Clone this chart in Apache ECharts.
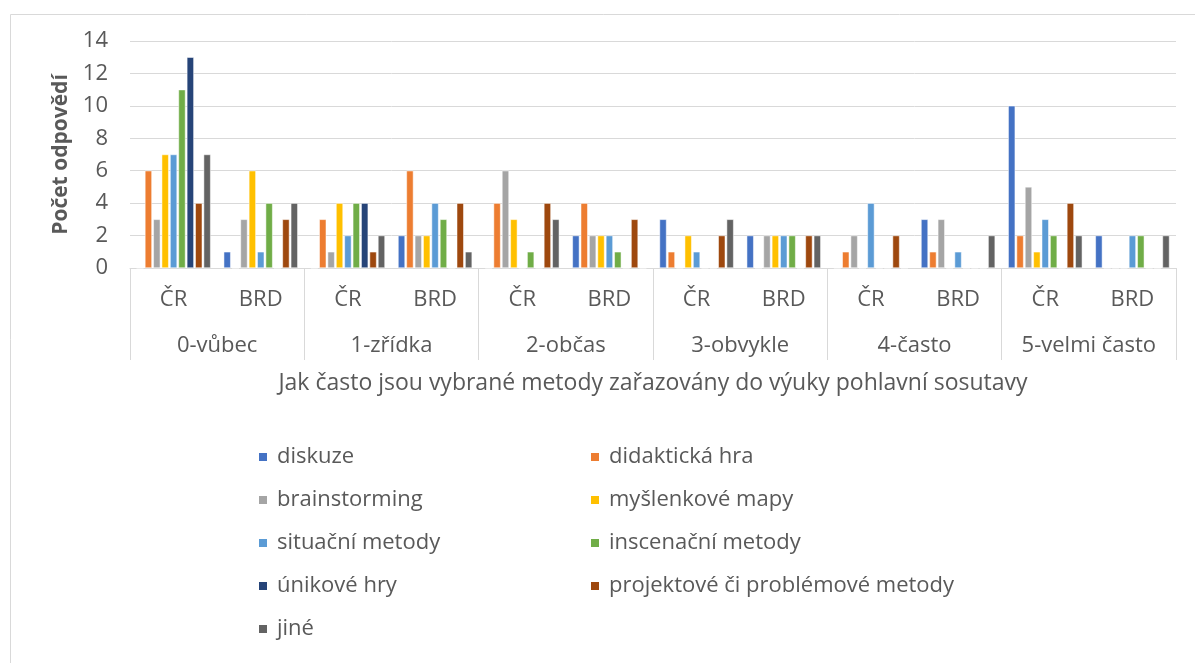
<!DOCTYPE html>
<html>
<head>
<meta charset="utf-8">
<script src="https://cdn.jsdelivr.net/npm/echarts@6/dist/echarts.min.js"></script>
<style>
html,body{margin:0;padding:0;background:#fff;}
#chart{width:1195px;height:663px;}
</style>
</head>
<body>
<div id="chart"></div>
<script>
const categories = ['ČR','BRD','ČR','BRD','ČR','BRD','ČR','BRD','ČR','BRD','ČR','BRD'];
const groups = ['0-vůbec','1-zřídka','2-občas','3-obvykle','4-často','5-velmi často'];
const yTicks = [0,2,4,6,8,10,12,14];

const seriesNames = ['diskuze','didaktická hra','brainstorming','myšlenkové mapy','situační metody','inscenační metody','únikové hry','projektové či problémové metody','jiné'];
const colors = ['#4472C4','#ED7D31','#A5A5A5','#FFC000','#5B9BD5','#70AD47','#264478','#9E480E','#636363'];

const diskuze      = [0,1,0,2,0,2,3,2,0,3,10,2];
const didaktickaHra= [6,0,3,6,4,4,1,0,1,1,2,0];
const brainstorming= [3,3,1,2,6,2,0,2,2,3,5,0];
const myslenkoveMapy=[7,6,4,2,3,2,2,2,0,0,1,0];
const situacniMetody=[7,1,2,4,0,2,1,2,4,1,3,2];
const inscenacniMetody=[11,4,4,3,1,1,0,2,0,0,2,2];
const unikoveHry   = [13,0,4,0,0,0,0,0,0,0,0,0];
const projektove   = [4,3,1,4,4,3,2,2,2,0,4,0];
const jine         = [7,4,2,1,3,0,3,2,0,2,2,2];

const allData = [diskuze,didaktickaHra,brainstorming,myslenkoveMapy,situacniMetody,inscenacniMetody,unikoveHry,projektove,jine];

const FONT = '"Open Sans", Lato, sans-serif';
const TXT = '#595959';
const GRID = '#d9d9d9';

const chart = echarts.init(document.getElementById('chart'));
chart.setOption({
  animation:false,
  color: colors,
  textStyle:{fontFamily:FONT},
  graphic:[{type:'rect', left:8, top:12, shape:{width:1200, height:700}, style:{fill:'none', stroke:'#d9d9d9', lineWidth:1}, silent:true}],
  grid:{left:130, right:19, top:41, bottom:395},
  legend:[
    {data:[seriesNames[0],seriesNames[2],seriesNames[4],seriesNames[6],seriesNames[8]],
     orient:'vertical', left:252, top:441, itemWidth:10, itemHeight:10, itemGap:21, icon:'rect',
     textStyle:{fontSize:22, color:TXT, fontFamily:FONT, padding:[0,0,0,4]}},
    {data:[seriesNames[1],seriesNames[3],seriesNames[5],seriesNames[7]],
     orient:'vertical', left:584, top:441, itemWidth:10, itemHeight:10, itemGap:21, icon:'rect',
     textStyle:{fontSize:22, color:TXT, fontFamily:FONT, padding:[0,0,0,4]}}
  ],
  xAxis:[
    {type:'category', data:categories, position:'bottom',
     axisLine:{show:true, lineStyle:{color:GRID, width:1}},
     axisTick:{show:false},
     axisLabel:{interval:0, margin:21, fontSize:22, color:TXT, fontFamily:FONT}},
    {type:'category', data:groups, position:'bottom',
     axisLine:{show:false},
     axisTick:{show:true, interval:0, length:92, lineStyle:{color:GRID, width:1}},
     axisLabel:{interval:0, margin:67, fontSize:22, color:TXT, fontFamily:FONT},
     name:'Jak často jsou vybrané metody zařazovány do výuky pohlavní sosutavy',
     nameLocation:'middle', nameGap:104,
     nameTextStyle:{fontSize:23, color:TXT, fontFamily:FONT}}
  ],
  yAxis:{type:'value', min:yTicks[0], max:yTicks[yTicks.length-1], interval:2,
    axisLine:{show:false}, axisTick:{show:false},
    splitLine:{lineStyle:{color:GRID, width:1}},
    axisLabel:{fontSize:22, color:TXT, margin:22, fontFamily:FONT},
    name:'Počet odpovědí', nameLocation:'middle', nameGap:56, nameRotate:90,
    nameTextStyle:{fontSize:21, color:TXT, fontWeight:'bold', fontFamily:FONT}},
  series: seriesNames.map((n,i)=>({
    name:n, type:'bar', data:allData[i], xAxisIndex:0,
    barGap:'20%', barCategoryGap:'15%',
    itemStyle:{color:colors[i], borderColor:'#ffffff', borderWidth:0.5}
  }))
});
</script>
</body>
</html>
